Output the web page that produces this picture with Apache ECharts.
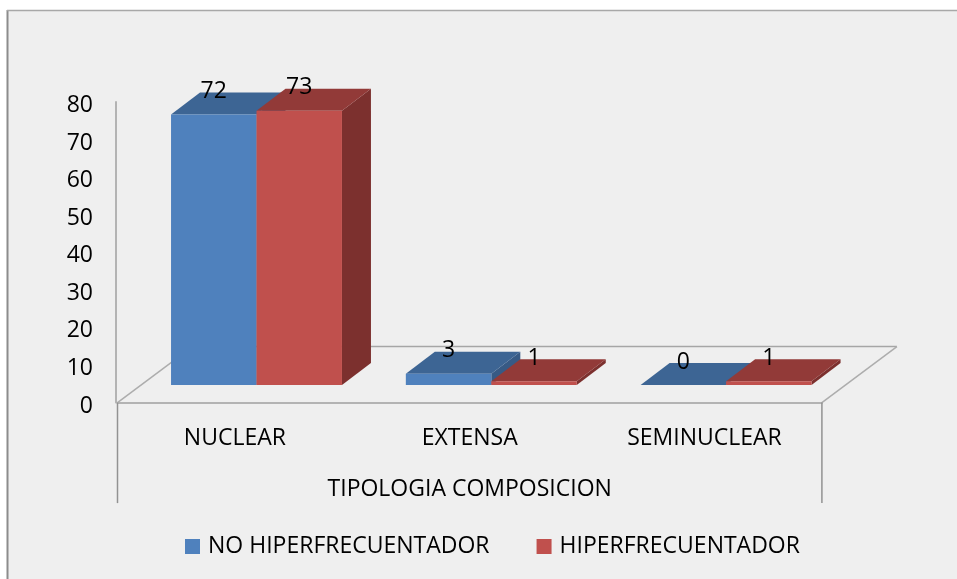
<!DOCTYPE html>
<html><head><meta charset="utf-8">
<style>html,body{margin:0;padding:0;background:#fff}#c{width:957px;height:579px}</style>
<script src="https://cdn.jsdelivr.net/npm/echarts@6/dist/echarts.min.js"></script>
</head><body><div id="c"></div>
<script>
const categories = ['NUCLEAR', 'EXTENSA', 'SEMINUCLEAR'];
const noHiper = [72, 3, 0];
const hiper = [73, 1, 1];
const seriesNames = ['NO HIPERFRECUENTADOR', 'HIPERFRECUENTADOR'];
const yTicks = { min: 0, max: 80, interval: 10 };
const axisTitle = 'TIPOLOGIA COMPOSICION';

const FONT = '"Open Sans", sans-serif';
const palette = [
  { front: '#4f81bd', top: '#3d6594', side: '#375a85' },
  { front: '#c0504d', top: '#923a38', side: '#7c302e' }
];
const shiftX = 21.6, shiftY = -17.5, depthX = 29, depthY = 22, barRatio = 0.364;

function bar3d(idx) {
  const c = palette[idx];
  return function (params, api) {
    const i = api.value(0), v = api.value(1);
    const band = api.size([1, 0])[0], w = band * barRatio;
    const center = api.coord([i, 0]);
    const topPt = api.coord([i, v]);
    const x0 = center[0] + shiftX + (idx === 0 ? -w : 0), x1 = x0 + w;
    const yb = center[1] + shiftY, yt = topPt[1] + shiftY;
    const poly = (pts, fill) => ({ type: 'polygon', shape: { points: pts }, style: { fill: fill } });
    return { type: 'group', children: [
      poly([[x1, yb], [x1 + depthX, yb - depthY], [x1 + depthX, yt - depthY], [x1, yt]], c.side),
      poly([[x0, yt], [x1, yt], [x1 + depthX, yt - depthY], [x0 + depthX, yt - depthY]], c.top),
      poly([[x0, yb], [x1, yb], [x1, yt], [x0, yt]], c.front),
      { type: 'text', z2: 50, style: { x: (x0 + x1) / 2, y: yt - 23, text: String(v), fill: '#000', font: '23px ' + FONT, align: 'center', verticalAlign: 'middle' } }
    ] };
  };
}

function floor(params, api) {
  const g = params.coordSys, L = g.x, R = g.x + g.width, B = g.y + g.height;
  const line = (x1, y1, x2, y2, col, w) => ({ type: 'line', shape: { x1, y1, x2, y2 }, style: { stroke: col, lineWidth: w } });
  const dx = 75, dy = 56, drop = 100.5;
  return { type: 'group', children: [
    line(L, B, L + dx, B - dy, '#adadad', 1.5),
    line(L + dx, B - dy, R + dx, B - dy, '#a6a6a6', 1.5),
    line(R, B, R + dx, B - dy, '#adadad', 1.5),
    line(L, B, L, B + drop, '#929292', 1.5),
    line(R, B, R, B + drop, '#929292', 1.5)
  ] };
}

const chart = echarts.init(document.getElementById('c'), null, { renderer: 'canvas' });
chart.setOption({
  animation: false,
  backgroundColor: '#fff',
  graphic: [{ type: 'group', silent: true, z: -10, children: [
    { type: 'rect', shape: { x: 8, y: 11, width: 949, height: 568 }, style: { fill: '#efefef' } },
    { type: 'line', shape: { x1: 7.5, y1: 10, x2: 7.5, y2: 579 }, style: { stroke: '#8c8c8c', lineWidth: 2 } },
    { type: 'line', shape: { x1: 7, y1: 10.5, x2: 957, y2: 10.5 }, style: { stroke: '#a8a8a8', lineWidth: 1.5 } }
  ] }],
  grid: { left: 117.5, width: 704.4, top: 102, height: 300.6 },
  legend: {
    left: 180, top: 530, itemWidth: 15, itemHeight: 15, itemGap: 47, icon: 'rect',
    data: seriesNames,
    textStyle: { fontFamily: FONT, fontSize: 23, color: '#000', padding: [6, 0, 0, 3] }
  },
  xAxis: {
    type: 'category', data: categories,
    axisLine: { show: true, lineStyle: { color: '#b3b3b3', width: 2 } },
    axisTick: { show: false }, splitLine: { show: false },
    axisLabel: { fontFamily: FONT, fontSize: 23, color: '#000', margin: 24 },
    name: axisTitle, nameLocation: 'middle', nameGap: 75,
    nameTextStyle: { fontFamily: FONT, fontSize: 23, color: '#000' }
  },
  yAxis: {
    type: 'value', min: yTicks.min, max: yTicks.max, interval: yTicks.interval, offset: 1.5,
    axisLine: { show: true, lineStyle: { color: '#b3b3b3', width: 2 } },
    axisTick: { show: false }, splitLine: { show: false },
    axisLabel: { fontFamily: FONT, fontSize: 23, color: '#000', margin: 23, verticalAlign: 'top', lineHeight: 7 }
  },
  series: [
    { type: 'custom', name: 'floor', silent: true, renderItem: floor, data: [[0, 0]], encode: { x: 0, y: 1 }, clip: false },
    { type: 'custom', name: seriesNames[0], color: palette[0].front, renderItem: bar3d(0), clip: false, encode: { x: 0, y: 1 },
      data: noHiper.map((v, i) => [i, v]) },
    { type: 'custom', name: seriesNames[1], color: palette[1].front, renderItem: bar3d(1), clip: false, encode: { x: 0, y: 1 },
      data: hiper.map((v, i) => [i, v]) }
  ]
});
</script></body></html>
